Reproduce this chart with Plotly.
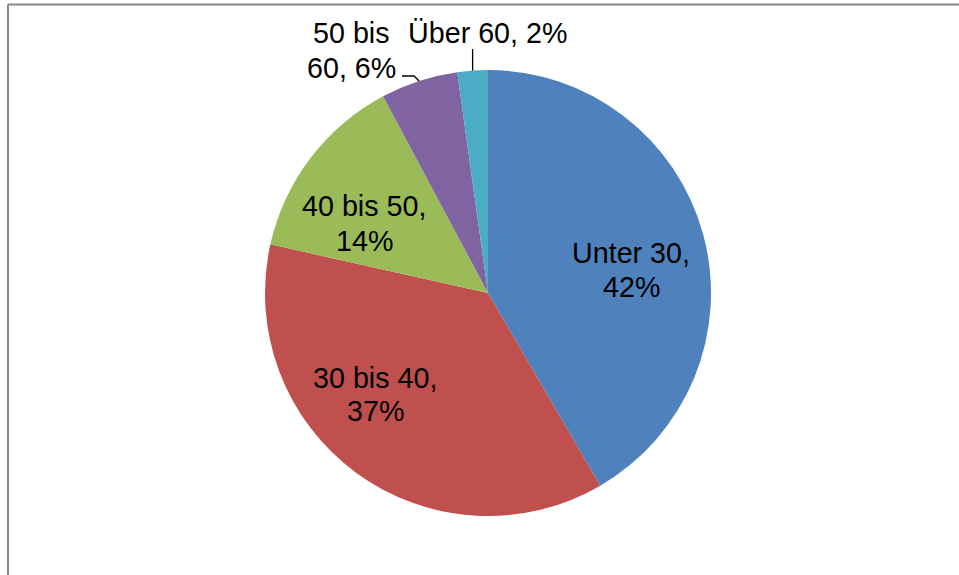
import math
import plotly.graph_objects as go

# ---- data ----
categories = ["Unter 30", "30 bis 40", "40 bis 50", "50 bis 60", "Über 60"]
values = [41.6, 36.9, 13.7, 5.6, 2.2]
colors = ["#4F81BD", "#C0504D", "#9BBB59", "#8064A2", "#4BACC6"]

W, H = 959, 575
CX, CY, R = 488, 293, 223  # pie centre / radius in pixels

def px(x):
    return x / W

def py(y):
    return 1 - y / H

fig = go.Figure(go.Pie(
    labels=categories,
    values=values,
    marker=dict(colors=colors, line=dict(width=0)),
    sort=False,
    direction="clockwise",
    rotation=0,
    textinfo="none",
    hoverinfo="label+percent",
    showlegend=False,
    domain=dict(x=[px(CX - R), px(CX + R)], y=[py(CY + R), py(CY - R)]),
))

total = sum(values)
pcts = [round(v / total * 100) for v in values]

label_lines = [
    [f"{categories[0]},", f"{pcts[0]}%"],
    [f"{categories[1]},", f"{pcts[1]}%"],
    [f"{categories[2]},", f"{pcts[2]}%"],
    ["50 bis", f"60, {pcts[3]}%"],
    [f"{categories[4]}, {pcts[4]}%"],
]
label_pos = [
    (631, [263, 297]),
    (375, [388, 421]),
    (364, [216, 251]),
    (351, [43, 78]),
    (487, [43]),
]

FS = 28.7
annotations = []
for lines, (x, bases) in zip(label_lines, label_pos):
    for t, b in zip(lines, bases):
        annotations.append(dict(
            x=px(x), y=py(b - 0.3465 * FS), xref="paper", yref="paper",
            xanchor="center", yanchor="middle", text=t, showarrow=False,
            font=dict(family="Liberation Sans, Arial", size=FS, color="black"),
        ))

cum = 0
mids = []
for v in values:
    mids.append((cum + v / 2) / total * 2 * math.pi)
    cum += v

def edge(i):
    a = mids[i]
    return CX + R * math.sin(a), CY - R * math.cos(a)

shapes = []
ex, ey = edge(3)
shapes.append(dict(type="path", xref="paper", yref="paper",
                   path=f"M {px(402)},{py(76)} L {px(ex - 5)},{py(76)} L {px(ex)},{py(ey)}",
                   line=dict(color="black", width=1.3)))
ex, ey = edge(4)
shapes.append(dict(type="line", xref="paper", yref="paper",
                   x0=px(ex), y0=py(49), x1=px(ex), y1=py(ey),
                   line=dict(color="black", width=1.3)))
shapes.append(dict(type="line", xref="paper", yref="paper",
                   x0=px(8), y0=py(4.5), x1=px(959), y1=py(4.5),
                   line=dict(color="#878787", width=2)))
shapes.append(dict(type="line", xref="paper", yref="paper",
                   x0=px(8), y0=py(4.5), x1=px(8), y1=py(575),
                   line=dict(color="#878787", width=2)))

fig.update_layout(
    width=W, height=H,
    margin=dict(l=0, r=0, t=0, b=0),
    paper_bgcolor="white",
    plot_bgcolor="white",
    annotations=annotations,
    shapes=shapes,
)

fig.write_html(
    "out.html",
    config={"displayModeBar": False},
    post_script="document.body.style.margin='0';document.body.style.padding='0';document.body.style.overflow='hidden';",
)
